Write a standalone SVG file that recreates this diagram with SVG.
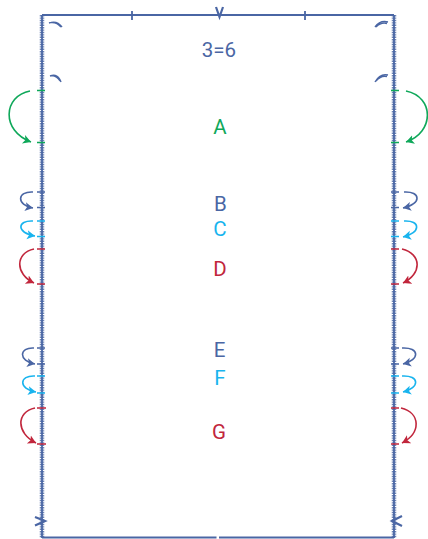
<svg xmlns="http://www.w3.org/2000/svg" width="428" height="539" viewBox="0 0 428 539">
<style>
text{font-family:"Roboto","Liberation Sans",sans-serif;font-size:20.500px;text-anchor:middle}
.blue{stroke:#4a66a4;fill:none}
.cyan{stroke:#19b4ee;fill:none}
.red{stroke:#c1263c;fill:none}
.green{stroke:#0fa85a;fill:none}
.a{stroke-width:1.6}
.t{stroke-width:1.7}
.w{stroke-width:1.8}
.d{stroke-width:4.500;stroke-dasharray:1.4 1;stroke-opacity:.8}
.m{stroke-width:1.400}
</style>
<defs>
<marker id="mb" markerUnits="userSpaceOnUse" markerWidth="12" markerHeight="12" refX="8" refY="5" orient="auto"><path d="M0 0.500L8 5L0 9.500L2 5Z" fill="#4a66a4"/></marker>
<marker id="mc" markerUnits="userSpaceOnUse" markerWidth="12" markerHeight="12" refX="8" refY="5" orient="auto"><path d="M0 0.500L8 5L0 9.500L2 5Z" fill="#19b4ee"/></marker>
<marker id="mr" markerUnits="userSpaceOnUse" markerWidth="12" markerHeight="12" refX="8" refY="5" orient="auto"><path d="M0 0.500L8 5L0 9.500L2 5Z" fill="#c1263c"/></marker>
<marker id="mg" markerUnits="userSpaceOnUse" markerWidth="12" markerHeight="12" refX="8" refY="5" orient="auto"><path d="M0 0.500L8 5L0 9.500L2 5Z" fill="#0fa85a"/></marker>
</defs>
<g id="connectors">
<g id="frame">
<path class="blue w" d="M42 15H394"/>
<path class="blue w" d="M42 537.500H216.500M219 537.500H394"/>
<path class="blue w" d="M42 15V538M394 15V538"/>
<path class="blue d" d="M42 15V538M394 15V538"/>
<path class="blue w" d="M132 11V20M305 11V20"/>
<path class="blue" stroke-width="2.200" d="M216 7L219.500 17L223 7"/>
<path class="blue" stroke-width="2.200" d="M35 517L45 521L35 525.500M402 516L392 521L402 526"/>
<path class="blue m" d="M49 23Q57 20 62 27M51 22.500Q57 22 61 27M50 76Q58 73 61 82M52 75.500Q57 76 60 81"/>
<path class="blue m" d="M388 22Q380 20 375 27M387 23.500Q381 22 376 27M388 75Q380 73 375 82M387 76.500Q381 75 376 81"/>
</g>
<g id="ticks">
<path class="green t" d="M37 90.500H45M37 142.500H45M391 90.500H399M391 142.500H399"/>
<path class="blue t" d="M37 192H45M37 207.500H45M391 192H399M391 207.500H399M37 348H45M37 364H45M391 348H399M391 364H399"/>
<path class="cyan t" d="M37 221H45M37 236.500H45M391 221H399M391 236.500H399M37 376H45M37 393H45M391 376H399M391 393H399"/>
<path class="red t" d="M37 249H45M37 284H45M391 249H399M391 284H399M37 408H46M37 444H46M391 408H399M391 444H399"/>
</g>
<g id="arcs">
<path class="green a" marker-end="url(#mg)" d="M30 91C3 96 1 131 31 142"/>
<path class="green a" marker-end="url(#mg)" d="M406 91C435 97 434 133 406 142"/>
<path class="blue a" marker-end="url(#mb)" d="M33 192C17 191 16 205 33 208"/>
<path class="cyan a" marker-end="url(#mc)" d="M33 221C17 220 16 233 35 236"/>
<path class="red a" marker-end="url(#mr)" d="M34 249C15 253 15 274 34 283"/>
<path class="blue a" marker-end="url(#mb)" d="M34 348C19 347 18 361 35 364"/>
<path class="cyan a" marker-end="url(#mc)" d="M35 376C19 375 18 389 36 392"/>
<path class="red a" marker-end="url(#mr)" d="M35 408C16 412 16 433 36 443"/>
<path class="blue a" marker-end="url(#mb)" d="M404 192C421 191 422 204 403 208"/>
<path class="cyan a" marker-end="url(#mc)" d="M404 221C421 220 421 233 403 237"/>
<path class="red a" marker-end="url(#mr)" d="M402 249C422 254 422 274 403 283"/>
<path class="blue a" marker-end="url(#mb)" d="M402 348C420 347 420 360 403 364"/>
<path class="cyan a" marker-end="url(#mc)" d="M402 376C420 375 420 388 403 392"/>
<path class="red a" marker-end="url(#mr)" d="M401 408C421 413 421 433 402 443"/>
</g>
</g>
<g id="title"><text x="219" y="57" fill="#4a66a4">3=6</text></g>
<g id="node-a"><text x="220" y="134" fill="#0fa85a">A</text></g>
<g id="node-b"><text x="220.500" y="211" fill="#4a66a4">B</text></g>
<g id="node-c"><text x="220" y="236" fill="#19b4ee">C</text></g>
<g id="node-d"><text x="220" y="276" fill="#c1263c">D</text></g>
<g id="node-e"><text x="219.500" y="357" fill="#4a66a4">E</text></g>
<g id="node-f"><text x="220" y="385" fill="#19b4ee">F</text></g>
<g id="node-g"><text x="219" y="439" fill="#c1263c">G</text></g>
</svg>
